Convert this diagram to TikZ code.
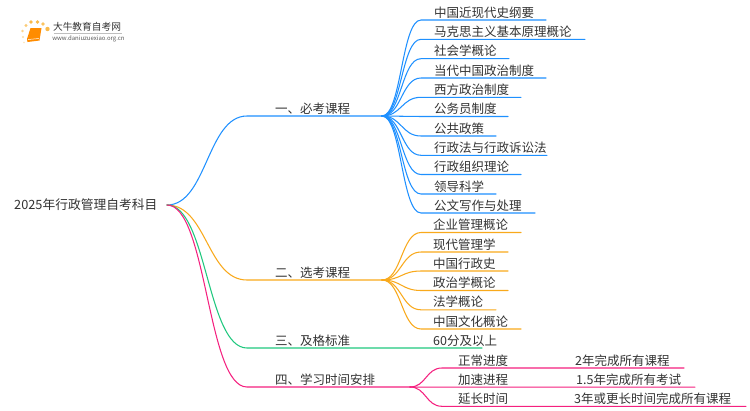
\documentclass[tikz,border=0pt]{standalone}
\usepackage{fontspec}
\setmainfont{Noto Sans CJK SC}
\definecolor{cblue}{HTML}{1E90FF}
\definecolor{corange}{HTML}{F9A91B}
\definecolor{cgreen}{HTML}{1FC87E}
\definecolor{cpink}{HTML}{F5207F}
\definecolor{ctext}{HTML}{333333}
\tikzset{
  lab/.style={inner sep=0pt,anchor=base west,text=ctext,font=\fontsize{12.5}{12.5}\selectfont},
  conn/.style={line width=1.05pt,line cap=round},
}
% \leafnode{name}{hub}{colour}{text x}{y}{curve end x}{line end x}{text}
\newcommand{\leafnode}[8]{%
  \coordinate (#1s) at (#6,#5);
  \coordinate (#1e) at (#7,#5);
  \node[lab] (#1) at (#4,#5-3) {#8};
  \draw[conn,#3] (#2) .. controls ($(#2)!0.5!(#2 -| #1s)$) and ($(#1s)!0.5!(#1s -| #2)$) .. (#1s) -- (#1e);
}
\usetikzlibrary{calc}
\begin{document}
\begin{tikzpicture}[x=1pt,y=-1pt]
\useasboundingbox (0,0) rectangle (750,410);
\fill[white] (0,0) rectangle (750,410);
% logo
\fill[corange!80] (31,22) circle (1.9);
\fill[corange!80] (37.5,22) circle (1.9);
\fill[corange!70] (43,24) circle (1.9);
\fill[corange!80] (47.5,29) circle (2.2);
\fill[corange!60] (26,25.5) circle (1.6);
\fill[corange!50] (22.5,31) circle (1.3);
\fill[corange!40] (23,37) circle (1.1);
\fill[corange!30] (24,42.5) circle (0.9);
\fill[orange!90!yellow] (30.5,28) -- (41.5,28) -- (39.5,40.5) -- (27.5,42) -- (27,39) -- cycle;
\draw[white,line width=0.5pt] (28,39.5) -- (39,38.5);
\node[inner sep=0pt,text=ctext,anchor=center,font=\fontsize{9.7}{9.7}\selectfont] (brand) at (87,27) {大牛教育自考网};
\node[inner sep=0pt,text=black!65,anchor=center,font=\fontsize{6}{6}\selectfont] (url) at (88.5,38.5) {www.daniuzuexiao.org.cn};
\draw[black!25,line width=0.4pt] (54,33) -- (122,33);
% root
\node[lab,font=\fontsize{12.75}{12.75}\selectfont] (root) at (14,209.5) {2025年行政管理自考科目};
\coordinate (r) at (167,205);
% branches
\coordinate (h1) at (382,116);
\coordinate (h2) at (382,280);
\coordinate (h3) at (482,348);
\coordinate (h4) at (410,387);
\coordinate (c1) at (247,116);
\coordinate (c2) at (247,280);
\coordinate (c3) at (247,348);
\coordinate (c4) at (247,387);
\draw[conn,cblue] (r) .. controls (207,205) and (207,116) .. (c1) -- (h1);
\draw[conn,corange] (r) .. controls (207,205) and (207,280) .. (c2) -- (h2);
\draw[conn,cgreen] (r) .. controls (207,205) and (207,348) .. (c3) -- (h3);
\draw[conn,cpink] (r) .. controls (207,205) and (207,387) .. (c4) -- (h4);
\node[lab] (b1) at (275,113) {一、必考课程};
\node[lab] (b2) at (275,277) {二、选考课程};
\node[lab] (b3) at (275,345) {三、及格标准};
\node[lab] (b4) at (275,384) {四、学习时间安排};
% blue leaves
\leafnode{a1}{h1}{cblue}{434}{20}{421}{546}{中国近现代史纲要}
\leafnode{a2}{h1}{cblue}{434}{39.3}{421}{585}{马克思主义基本原理概论}
\leafnode{a3}{h1}{cblue}{434}{58.7}{421}{509}{社会学概论}
\leafnode{a4}{h1}{cblue}{434}{78}{421}{546}{当代中国政治制度}
\leafnode{a5}{h1}{cblue}{434}{97.3}{421}{521}{西方政治制度}
\leafnode{a6}{h1}{cblue}{434}{116.5}{421}{508}{公务员制度}
\leafnode{a7}{h1}{cblue}{434}{136}{421}{496}{公共政策}
\leafnode{a8}{h1}{cblue}{434}{155.3}{421}{547}{行政法与行政诉讼法}
\leafnode{a9}{h1}{cblue}{434}{174.5}{421}{521}{行政组织理论}
\leafnode{a10}{h1}{cblue}{434}{194}{421}{496}{领导科学}
\leafnode{a11}{h1}{cblue}{434}{213}{421}{535}{公文写作与处理}
% orange leaves
\leafnode{o1}{h2}{corange}{433}{232.5}{421}{521}{企业管理概论}
\leafnode{o2}{h2}{corange}{433}{252}{421}{508}{现代管理学}
\leafnode{o3}{h2}{corange}{433}{271}{421}{508}{中国行政史}
\leafnode{o4}{h2}{corange}{433}{290.5}{421}{508}{政治学概论}
\leafnode{o5}{h2}{corange}{433}{309.8}{421}{496}{法学概论}
\leafnode{o6}{h2}{corange}{433}{329}{421}{521}{中国文化概论}
% green leaf
\node[lab] (g1) at (433,345) {60分及以上};
% pink leaves
\leafnode{p1}{h4}{cpink}{458}{368}{442}{684}{正常进度}
\leafnode{p2}{h4}{cpink}{458}{387.2}{442}{695}{加速进程}
\leafnode{p3}{h4}{cpink}{458}{406.3}{442}{746}{延长时间}
\node[lab] (q1) at (575,365) {2年完成所有课程};
\node[lab] (q2) at (576,384.2) {1.5年完成所有考试};
\node[lab] (q3) at (574,403.3) {3年或更长时间完成所有课程};
\end{tikzpicture}
\end{document}
